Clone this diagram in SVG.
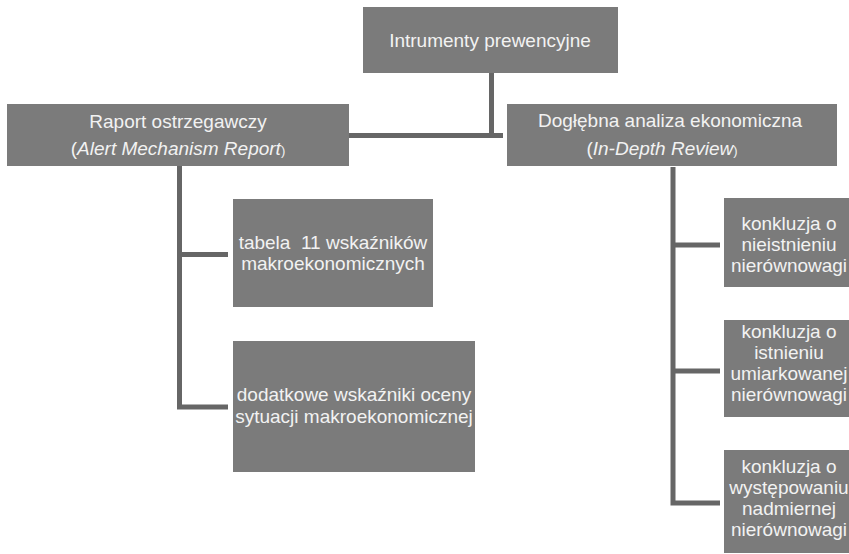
<svg xmlns="http://www.w3.org/2000/svg" width="849" height="554" viewBox="0 0 849 554">
<style>
.box{fill:#7b7b7b}
.t{font-family:"Liberation Sans",Arial,sans-serif;font-size:19px;fill:#f2f2f2;text-anchor:middle}
.i{font-style:italic}
.sm{font-size:13px}
.c{stroke:#666;stroke-width:5;fill:none;stroke-linecap:butt}
</style>
<rect width="849" height="554" fill="#fff"/>
<g id="connectors">
<path class="c" d="M491.5 73 V135.5 M349 135.5 H503"/>
<path class="c" d="M179.5 166 V407 M177 254.5 H228 M177 407 H228"/>
<path class="c" d="M673 167 V503 M670.5 245 H720 M670.5 371 H720 M670.5 503 H720"/>
</g>
<g id="n-top">
<rect class="box" x="363" y="7" width="255" height="66"/>
<text class="t" x="490" y="47">Intrumenty prewencyjne</text>
</g>
<g id="n-raport">
<rect class="box" x="7" y="104" width="342" height="62"/>
<text class="t" x="178" y="128">Raport ostrzegawczy</text>
<text class="t" x="178" y="155">(<tspan class="i">Alert Mechanism Report</tspan><tspan class="sm">)</tspan></text>
</g>
<g id="n-analiza">
<rect class="box" x="507" y="104" width="330" height="62"/>
<text class="t" x="670" y="127">Dogłębna analiza ekonomiczna</text>
<text class="t" x="662" y="155">(<tspan class="i">In-Depth Review</tspan><tspan class="sm">)</tspan></text>
</g>
<g id="n-tabela">
<rect class="box" x="233" y="199" width="200" height="108"/>
<text class="t" x="333" y="249" xml:space="preserve">tabela  11 wskaźników</text>
<text class="t" x="333" y="270">makroekonomicznych</text>
</g>
<g id="n-dodatkowe">
<rect class="box" x="233" y="341" width="242" height="131"/>
<text class="t" x="354" y="401">dodatkowe wskaźniki oceny</text>
<text class="t" x="354" y="423">sytuacji makroekonomicznej</text>
</g>
<g id="n-k1">
<rect class="box" x="724" y="198" width="130" height="89"/>
<text class="t" x="789" y="230">konkluzja o</text>
<text class="t" x="789" y="251">nieistnieniu</text>
<text class="t" x="789" y="272">nierównowagi</text>
</g>
<g id="n-k2">
<rect class="box" x="724" y="320" width="130" height="97"/>
<text class="t" x="789" y="338">konkluzja o</text>
<text class="t" x="789" y="359">istnieniu</text>
<text class="t" x="789" y="380">umiarkowanej</text>
<text class="t" x="789" y="401">nierównowagi</text>
</g>
<g id="n-k3">
<rect class="box" x="724" y="450" width="130" height="103"/>
<text class="t" x="789" y="473">konkluzja o</text>
<text class="t" x="789" y="494">występowaniu</text>
<text class="t" x="789" y="515">nadmiernej</text>
<text class="t" x="789" y="536">nierównowagi</text>
</g>
</svg>
